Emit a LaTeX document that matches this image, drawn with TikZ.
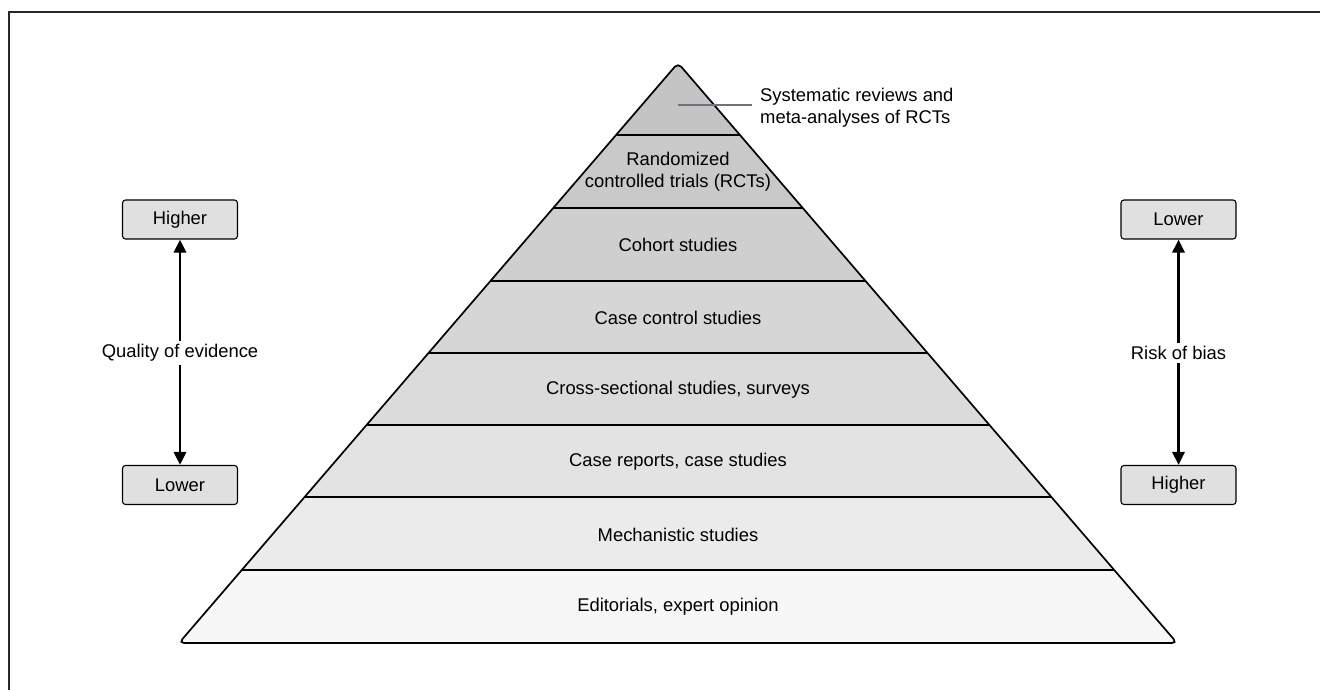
\documentclass[tikz,border=0pt]{standalone}
\usepackage{fontspec}
\setmainfont{Liberation Sans}
\usetikzlibrary{arrows.meta}
\definecolor{frameline}{RGB}{40,40,52}
\definecolor{pointer}{RGB}{110,114,124}

\tikzset{
  sidebox/.style={draw, fill=black!12, rounded corners=3pt, line width=1.1pt,
    minimum width=115pt, minimum height=39pt},
  levelarrow/.style={line width=2.8pt, -{Triangle[length=13pt,width=12pt]}},
}

\begin{document}
\begin{tikzpicture}[x=1pt, y=-1pt, font=\fontsize{18.4}{22}\selectfont]
				\useasboundingbox (0,0) rectangle (1320,690);
				\draw[line width=1.5pt, frameline] (9,690) -- (9,12) -- (1320,12);
				% bands of the pyramid
				\begin{scope}
					\clip[rounded corners=5pt] (678,63) -- (1177,643) -- (179,643) -- cycle;
					\foreach \ya/\yb/\g in {63/135/23, 135/208/21, 208/281/19, 281/353/16, 353/425/14, 425/497/11, 497/570/8, 570/643/3} {
						\fill[black!\g] (170,\ya) rectangle (1190,\yb);
					}
				\end{scope}
				\foreach \y in {135,208,281,353,425,497,570} {
					\draw[line width=1.7pt] ({678-0.861*(\y-63)},\y) -- ({678+0.861*(\y-63)},\y);
				}
				\draw[line width=1.7pt, rounded corners=5pt] (678,63) -- (1177,643) -- (179,643) -- cycle;
				\node (rct) at (678,172) [align=center] {Randomized\\controlled trials (RCTs)};
				\node (cohort) at (678,245) {Cohort studies};
				\node (casectl) at (678,318) {Case control studies};
				\node (crosssec) at (678,390) {Cross-sectional studies, surveys};
				\node (casereps) at (678,462) {Case reports, case studies};
				\node (mech) at (678,534.5) {Mechanistic studies};
				\node (editorial) at (678,607) {Editorials, expert opinion};
				% label of the top level
				\coordinate (apexpt) at (678,105);
				\node (sysrev) at (752,108) [anchor=west, align=left, inner xsep=8pt] {Systematic reviews and\\meta-analyses of RCTs};
				\draw[line width=1.5pt, pointer] (apexpt) -- (apexpt -| sysrev.west);
				% quality of evidence
				\node[sidebox] (qhigh) at (180,219.5) {Higher};
				\node[sidebox] (qlow) at (180,485) {Lower};
				\node (quality) at (180,353) {Quality of evidence};
				\draw[levelarrow] (quality) -- (qhigh);
				\draw[levelarrow] (quality) -- (qlow);
				% risk of bias
				\node[sidebox] (blow) at (1178.5,219.5) {Lower};
				\node[sidebox] (bhigh) at (1178.5,485) {Higher};
				\node (bias) at (1178.5,353) {Risk of bias};
				\draw[levelarrow] (bias) -- (blow);
				\draw[levelarrow] (bias) -- (bhigh);
			\end{tikzpicture}
\end{document}
